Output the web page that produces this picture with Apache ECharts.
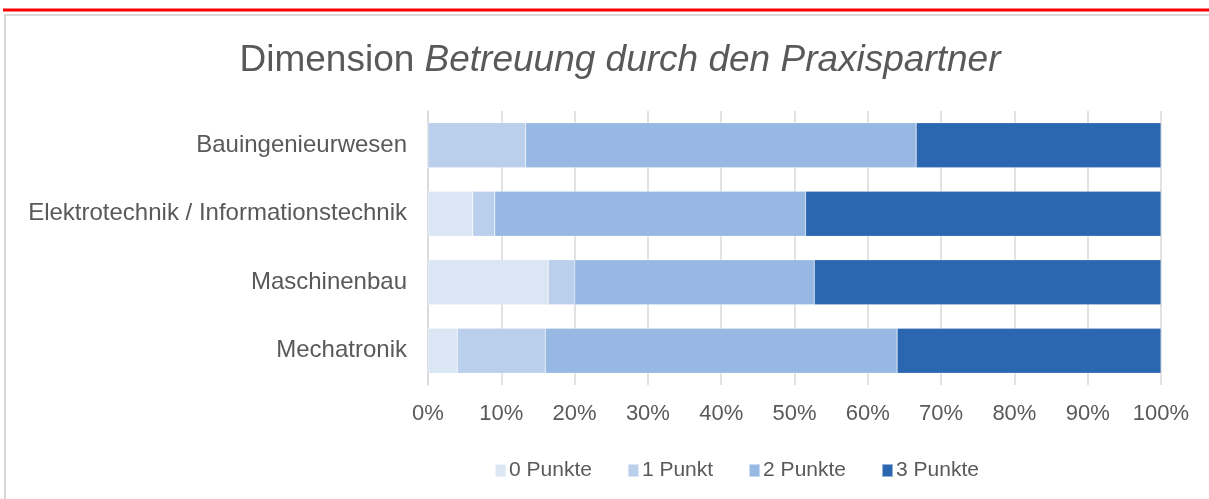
<!DOCTYPE html>
<html>
<head>
<meta charset="utf-8">
<script src="https://cdn.jsdelivr.net/npm/echarts@6/dist/echarts.min.js"></script>
<style>
html,body{margin:0;padding:0;background:#fff;}
#chart{width:1209px;height:499px;}
</style>
</head>
<body>
<div id="chart"></div>
<script>
const categories = ['Bauingenieurwesen', 'Elektrotechnik / Informationstechnik', 'Maschinenbau', 'Mechatronik'];
const seriesNames = ['0 Punkte', '1 Punkt', '2 Punkte', '3 Punkte'];
const punkte0 = [0, 6.1, 16.4, 4.0];
const punkte1 = [13.3, 3.0, 3.6, 12.0];
const punkte2 = [53.3, 42.4, 32.7, 48.0];
const punkte3 = [33.4, 48.5, 47.3, 36.0];
const colors = ['#DAE6F4', '#BACFEB', '#97B8E2', '#2B67B0'];

const chart = echarts.init(document.getElementById('chart'));
const font = 'Liberation Sans, Arial, sans-serif';
const allData = [punkte0, punkte1, punkte2, punkte3];

chart.setOption({
  animation: false,
  title: {
    text: '{n|Dimension }{i|Betreuung durch den Praxispartner}',
    left: 615, top: 37, textAlign: 'center',
    textStyle: {
      fontWeight: 'normal',
      rich: {
        n: {fontFamily: font, fontSize: 37, color: '#595959', fontWeight: 'normal'},
        i: {fontFamily: font, fontSize: 37, color: '#595959', fontStyle: 'italic', fontWeight: 'normal'}
      }
    }
  },
  legend: {
    top: 455, left: 489,
    itemWidth: 11, itemHeight: 13, itemGap: 35,
    icon: 'rect',
    textStyle: {fontFamily: font, fontSize: 21, color: '#595959', padding: [0, 0, 0, -2]},
    data: seriesNames
  },
  grid: {left: 428, right: 48, top: 111, height: 274, containLabel: false},
  xAxis: {
    type: 'value', min: 0, max: 100, interval: 10,
    axisLabel: {formatter: '{value}%', fontFamily: font, fontSize: 22, color: '#595959', margin: 18},
    splitLine: {show: true, lineStyle: {color: '#D9D9D9', width: 1.5}},
    axisLine: {show: false}, axisTick: {show: false}
  },
  yAxis: {
    type: 'category', data: categories, inverse: true,
    axisLabel: {fontFamily: font, fontSize: 24, color: '#595959', margin: 21},
    axisLine: {show: true, lineStyle: {color: '#D9D9D9', width: 1.5}},
    axisTick: {show: false}
  },
  series: seriesNames.map((name, i) => ({
    name: name, type: 'bar', stack: 'total',
    barCategoryGap: '34%',
    data: allData[i],
    itemStyle: {color: colors[i], borderColor: 'rgba(255,255,255,0.5)', borderWidth: 0.5}
  })),
  graphic: [
    {type: 'rect', shape: {x: 3, y: 8.5, width: 1206, height: 3}, style: {fill: '#FF0000'}},
    {type: 'polyline', shape: {points: [[5, 499], [5, 15], [1209, 15]]}, style: {stroke: '#D9D9D9', lineWidth: 2, fill: null}}
  ]
});
</script>
</body>
</html>
